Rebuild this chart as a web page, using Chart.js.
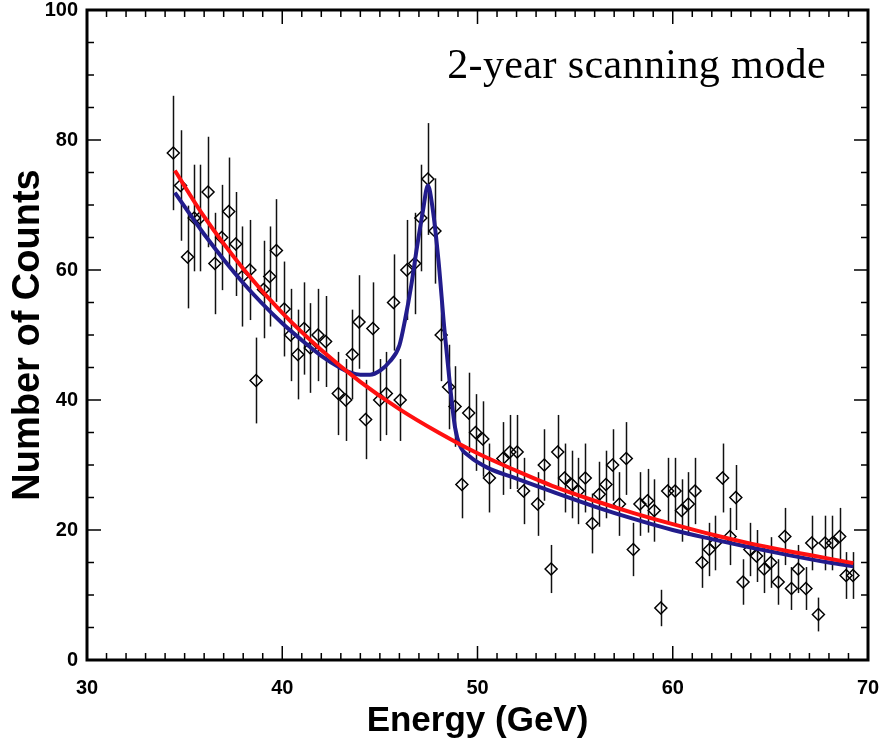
<!DOCTYPE html>
<html>
<head>
<meta charset="utf-8">
<script src="https://cdn.jsdelivr.net/npm/chart.js@4.4.1/dist/chart.umd.min.js"></script>
<style>
  html, body { margin: 0; padding: 0; background: #fff; }
</style>
</head>
<body>
<canvas id="chart" width="883" height="747"></canvas>
<script>
const energy = [
  34.42, 34.79, 35.15, 35.49, 35.78, 36.2, 36.55, 36.9, 37.26, 37.62,
  37.96, 38.34, 38.66, 39.04, 39.36, 39.7, 40.1, 40.43, 40.8, 41.12,
  41.44, 41.83, 42.22, 42.87, 43.25, 43.59, 43.93, 44.27, 44.64, 44.99,
  45.33, 45.7, 46.04, 46.38, 46.78, 47.1, 47.46, 47.82, 48.14, 48.52,
  48.85, 49.2, 49.55, 49.9, 50.27, 50.61, 51.3, 51.66, 52.03, 52.36,
  53.08, 53.42, 53.77, 54.11, 54.46, 54.83, 55.17, 55.52, 55.88, 56.24,
  56.58, 56.92, 57.27, 57.62, 57.98, 58.32, 58.71, 59.05, 59.39, 59.74,
  60.12, 60.45, 60.8, 61.14, 61.5, 61.87, 62.18, 62.55, 62.93, 63.23,
  63.6, 63.95, 64.29, 64.68, 65.02, 65.4, 65.74, 66.08, 66.42, 66.82,
  67.12, 67.46, 67.8, 68.18, 68.55, 68.88, 69.23
];
const counts = [
  78, 73, 62, 68, 68, 72, 61, 65, 69, 64,
  59, 60, 43, 57, 59, 63, 54, 50, 47, 51,
  48, 50, 49, 41, 40, 47, 52, 37, 51, 40,
  41, 55, 40, 60, 61, 68, 74, 66, 50, 42,
  39, 27, 38, 35, 34, 28, 31, 32, 32, 26,
  24, 30, 14, 32, 28, 27, 26, 28, 21, 25.5,
  27, 30, 24, 31, 17, 24, 24.5, 23, 8, 26,
  26, 23, 24, 26, 15, 17, 18, 28, 19, 25,
  12, 17, 16, 14, 15, 12, 19, 11, 14, 11,
  18, 7, 18, 18, 19, 13, 13
];
const countErr = [
  8.8, 8.5, 7.9, 8.2, 8.2, 8.5, 7.8, 8.1, 8.3, 8.0,
  7.7, 7.7, 6.6, 7.5, 7.7, 7.9, 7.3, 7.1, 6.9, 7.1,
  6.9, 7.1, 7.0, 6.4, 6.3, 6.9, 7.2, 6.1, 7.1, 6.3,
  6.4, 7.4, 6.3, 7.7, 7.8, 8.2, 8.6, 8.1, 7.1, 6.5,
  6.2, 5.2, 6.2, 5.9, 5.8, 5.3, 5.6, 5.7, 5.7, 5.1,
  4.9, 5.5, 3.7, 5.7, 5.3, 5.2, 5.1, 5.3, 4.6, 5.0,
  5.2, 5.5, 4.9, 5.6, 4.1, 4.9, 4.9, 4.8, 2.8, 5.1,
  5.1, 4.8, 4.9, 5.1, 3.9, 4.1, 4.2, 5.3, 4.4, 5.0,
  3.5, 4.1, 4.0, 3.7, 3.9, 3.5, 4.4, 3.3, 3.7, 3.3,
  4.2, 2.6, 4.2, 4.2, 4.4, 3.6, 3.6
];

// background-only fit (red)
const bgEnergy = [34.5, 36, 38, 40, 42, 44, 46, 48, 50, 52, 54, 56, 58, 60, 62, 64, 66, 68, 69.25];
const bgFit    = [75.3, 68.2, 60.2, 53.4, 47.7, 42.8, 38.6, 35.0, 31.8, 29.1, 26.6, 24.5, 22.6, 20.9, 19.3, 17.9, 16.7, 15.6, 14.9];

// background + line fit (blue)
const peakEnergy = [34.5, 36, 38, 40, 41, 42, 43, 43.5, 44, 44.5, 45, 45.5, 46, 46.3, 46.6, 46.9, 47.2, 47.46,
                    47.7, 48.0, 48.3, 48.6, 48.85, 49.1, 49.6, 50.5, 52, 54, 56, 58, 60, 62, 64, 66, 68, 69.25];
const peakFit    = [71.9, 65.5, 58.0, 51.8, 49.2, 46.8, 44.9, 44.2, 43.9, 43.9, 44.5, 45.9, 48.4, 52.5, 57.5, 63.5, 69.0, 73.0,
                    69.5, 61.5, 51.0, 42.0, 35.8, 33.0, 31.3, 29.6, 27.9, 25.7, 23.6, 21.7, 20.0, 18.6, 17.3, 16.1, 15.0, 14.4];

const xTickLabels = [30, 40, 50, 60, 70];
const yTickLabels = [0, 20, 40, 60, 80, 100];
const plotNote = '2-year scanning mode';

const toXY = (xs, ys) => xs.map((x, i) => ({ x, y: ys[i] }));

const errorBars = {
  id: 'errorBars',
  beforeDatasetsDraw(chart) {
    const { ctx, scales: { x, y }, chartArea } = chart;
    ctx.save();
    ctx.beginPath();
    ctx.rect(chartArea.left, chartArea.top, chartArea.width, chartArea.height);
    ctx.clip();
    ctx.strokeStyle = '#111';
    ctx.lineWidth = 1.5;
    energy.forEach((e, i) => {
      const px = Math.round(x.getPixelForValue(e)) + 0.5;
      ctx.beginPath();
      ctx.moveTo(px, y.getPixelForValue(counts[i] + countErr[i]));
      ctx.lineTo(px, y.getPixelForValue(counts[i] - countErr[i]));
      ctx.stroke();
    });
    ctx.restore();
  }
};

// box with inward ticks on all four sides
const frame = {
  id: 'frame',
  afterDraw(chart) {
    const { ctx, scales: { x, y }, chartArea: a } = chart;
    ctx.save();
    ctx.strokeStyle = '#000';
    ctx.lineWidth = 1.5;
    ctx.beginPath();
    for (let v = 30; v <= 70; v += 1) {
      const px = x.getPixelForValue(v);
      const len = v % 10 === 0 ? 14 : 7;
      ctx.moveTo(px, a.bottom); ctx.lineTo(px, a.bottom - len);
      ctx.moveTo(px, a.top); ctx.lineTo(px, a.top + len);
    }
    for (let v = 0; v <= 100; v += 5) {
      const py = y.getPixelForValue(v);
      const len = v % 20 === 0 ? 14 : 7;
      ctx.moveTo(a.left, py); ctx.lineTo(a.left + len, py);
      ctx.moveTo(a.right, py); ctx.lineTo(a.right - len, py);
    }
    ctx.stroke();
    ctx.lineWidth = 3;
    ctx.strokeRect(a.left, a.top, a.width, a.height);
    ctx.restore();
  }
};

const note = {
  id: 'note',
  afterDraw(chart) {
    const { ctx, chartArea: a } = chart;
    ctx.save();
    ctx.font = '42px "Liberation Serif"';
    ctx.letterSpacing = '0.4px';
    ctx.fillStyle = '#000';
    ctx.textAlign = 'right';
    ctx.textBaseline = 'alphabetic';
    ctx.fillText(plotNote, a.right - 42, a.top + 68);
    ctx.restore();
  }
};

new Chart(document.getElementById('chart'), {
  type: 'scatter',
  data: {
    datasets: [
      {
        label: 'Background fit',
        data: toXY(bgEnergy, bgFit),
        showLine: true,
        borderColor: '#ff1010',
        borderWidth: 4,
        pointRadius: 0,
        cubicInterpolationMode: 'monotone'
      },
      {
        label: 'Background + line fit',
        data: toXY(peakEnergy, peakFit),
        showLine: true,
        borderColor: '#221c8c',
        borderWidth: 4,
        pointRadius: 0,
        cubicInterpolationMode: 'monotone'
      },
      {
        label: 'Counts',
        data: toXY(energy, counts),
        pointStyle: 'rectRot',
        pointRadius: 6,
        pointBorderWidth: 1.5,
        borderColor: '#000',
        backgroundColor: 'rgba(0,0,0,0)'
      }
    ]
  },
  options: {
    responsive: false,
    animation: false,
    layout: { padding: { top: 10, right: 15, left: 0, bottom: 0 } },
    plugins: { legend: { display: false }, tooltip: { enabled: false } },
    scales: {
      x: {
        min: 30,
        max: 70,
        grid: { display: false, drawTicks: false },
        border: { display: false },
        afterBuildTicks: s => { s.ticks = xTickLabels.map(v => ({ value: v })); },
        afterFit: s => { s.height = 87; s.paddingLeft = 0; s.paddingRight = 0; },
        ticks: { color: '#000', padding: 16, maxRotation: 0, font: { family: 'Liberation Sans', size: 20, weight: 'bold' } },
        title: {
          display: true,
          text: 'Energy (GeV)',
          color: '#000',
          padding: { top: 0, bottom: 5 },
          font: { family: 'Liberation Sans', size: 35, weight: 'bold' }
        }
      },
      y: {
        min: 0,
        max: 100,
        grid: { display: false, drawTicks: false },
        border: { display: false },
        afterBuildTicks: s => { s.ticks = yTickLabels.map(v => ({ value: v })); },
        afterFit: s => { s.width = 87; s.paddingTop = 0; s.paddingBottom = 0; },
        ticks: { color: '#000', padding: 9, font: { family: 'Liberation Sans', size: 20, weight: 'bold' } },
        title: {
          display: true,
          text: 'Number of Counts',
          color: '#000',
          padding: { top: 6, bottom: 0 },
          font: { family: 'Liberation Sans', size: 38, weight: 'bold' }
        }
      }
    }
  },
  plugins: [errorBars, frame, note]
});
</script>
</body>
</html>
